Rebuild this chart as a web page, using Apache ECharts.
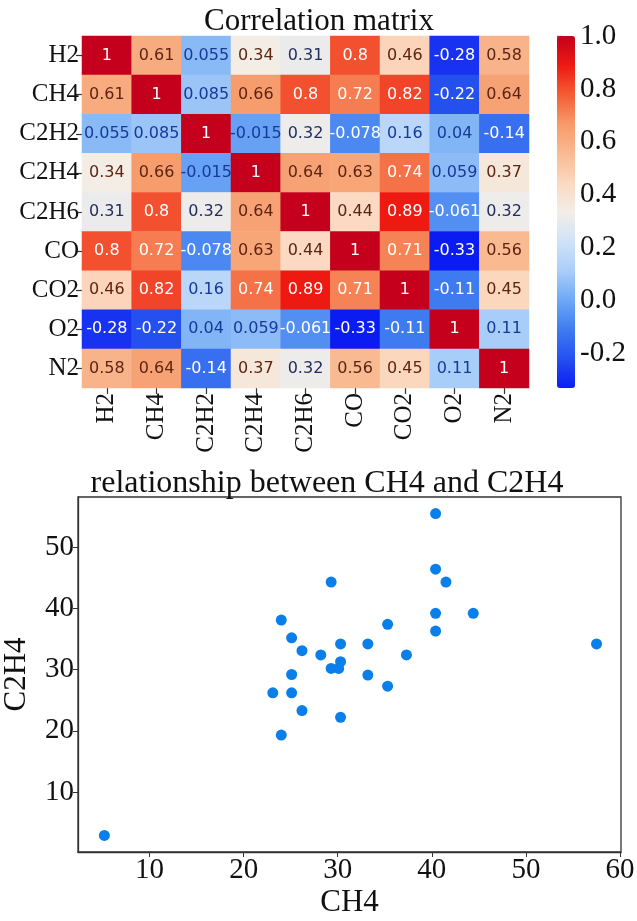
<!DOCTYPE html>
<html>
<head>
<meta charset="utf-8">
<script src="https://cdn.jsdelivr.net/npm/echarts@6/dist/echarts.min.js"></script>
<style>
html,body{margin:0;padding:0;background:#fff;}
#c{width:637px;height:921px;}
</style>
</head>
<body>
<div id="c"></div>
<script>
// ---- data ----
var gases = ['H2','CH4','C2H2','C2H4','C2H6','CO','CO2','O2','N2'];
var rowH2   = [1, 0.61, 0.055, 0.34, 0.31, 0.8, 0.46, -0.28, 0.58];
var rowCH4  = [0.61, 1, 0.085, 0.66, 0.8, 0.72, 0.82, -0.22, 0.64];
var rowC2H2 = [0.055, 0.085, 1, -0.015, 0.32, -0.078, 0.16, 0.04, -0.14];
var rowC2H4 = [0.34, 0.66, -0.015, 1, 0.64, 0.63, 0.74, 0.059, 0.37];
var rowC2H6 = [0.31, 0.8, 0.32, 0.64, 1, 0.44, 0.89, -0.061, 0.32];
var rowCO   = [0.8, 0.72, -0.078, 0.63, 0.44, 1, 0.71, -0.33, 0.56];
var rowCO2  = [0.46, 0.82, 0.16, 0.74, 0.89, 0.71, 1, -0.11, 0.45];
var rowO2   = [-0.28, -0.22, 0.04, 0.059, -0.061, -0.33, -0.11, 1, 0.11];
var rowN2   = [0.58, 0.64, -0.14, 0.37, 0.32, 0.56, 0.45, 0.11, 1];
var colorbarTicks = [-0.2, 0.0, 0.2, 0.4, 0.6, 0.8, 1.0];

var ch4Values  = [40.4, 40.4, 41.5, 29.3, 40.4, 44.4, 24.0, 35.3, 40.4, 25.1, 30.3, 33.2, 57.5, 26.2, 28.2, 37.3, 30.3, 29.3, 30.1, 25.1, 33.2, 35.3, 23.1, 25.1, 26.2, 30.3, 24.0, 5.2];
var c2h4Values = [55.5, 46.4, 44.3, 44.3, 39.2, 39.2, 38.1, 37.4, 36.3, 35.2, 34.2, 34.2, 34.2, 33.1, 32.4, 32.4, 31.3, 30.2, 30.2, 29.2, 29.1, 27.3, 26.2, 26.2, 23.3, 22.2, 19.3, 2.9];
var xTicks = [10, 20, 30, 40, 50, 60];
var yTicks = [10, 20, 30, 40, 50];

// ---- build ----
var matrix = [rowH2,rowCH4,rowC2H2,rowC2H4,rowC2H6,rowCO,rowCO2,rowO2,rowN2];
function textColor(v){
  if (v >= 0.7 || v <= -0.05) return '#ffffff';
  if (v < 0.25) return '#163a9c';
  if (v < 0.335) return '#212d5c';
  return '#5e2412';
}
var heatData = [];
for (var r = 0; r < matrix.length; r++) {
  for (var c = 0; c < matrix[r].length; c++) {
    var v = matrix[r][c];
    heatData.push({value:[c, r, v], label:{color:textColor(v)}});
  }
}
var scatterData = ch4Values.map(function(x,i){ return [x, c2h4Values[i]]; });

var serif = 'Liberation Serif';
var palette = ['#0b1cf2','#2550f0','#3f7cf0','#6ea8f5','#aacef8','#d0e2f8','#f3eee8','#fbd8c0','#f9ba92','#f79a6a','#f45d36','#ee1a12','#c4001c'];

var chart = echarts.init(document.getElementById('c'), null, {renderer:'canvas'});
chart.setOption({
  backgroundColor:'#fff',
  animation:false,
  title:[
    {text:'Correlation matrix', left:314, top:1, textAlign:'center',
     textStyle:{fontFamily:serif, fontSize:31, fontWeight:'normal', color:'#111'}},
    {text:'relationship between CH4 and C2H4', left:322, top:463, textAlign:'center',
     textStyle:{fontFamily:serif, fontSize:32, fontWeight:'normal', color:'#111'}}
  ],
  grid:[
    {left:82, top:36, width:447, height:352, outerBoundsMode:'none'},
    {left:557, top:36, width:18, height:352, outerBoundsMode:'none'},
    {left:78, top:497, width:543, height:355, show:true, borderColor:'#333', borderWidth:1.3, outerBoundsMode:'none'}
  ],
  xAxis:[
    {type:'category', gridIndex:0, data:gases, position:'bottom',
     axisLine:{show:false}, splitLine:{show:false},
     axisTick:{show:true, alignWithLabel:true, length:6, lineStyle:{color:'#333', width:1.2}},
     axisLabel:{rotate:90, interval:0, margin:5, fontFamily:serif, fontSize:25, color:'#111'}},
    {type:'value', gridIndex:1, show:false, min:0, max:1},
    {type:'value', gridIndex:2, min:2.4, max:60.1,
     axisLine:{show:true, onZero:false, lineStyle:{color:'#333', width:1.3}},
     axisTick:{show:true, length:5, customValues:xTicks, lineStyle:{color:'#333'}},
     axisLabel:{customValues:xTicks, margin:4, fontFamily:serif, fontSize:29, color:'#111'},
     splitLine:{show:false},
     name:'CH4', nameLocation:'middle', nameGap:35,
     nameTextStyle:{fontFamily:serif, fontSize:31, color:'#111'}}
  ],
  yAxis:[
    {type:'category', gridIndex:0, data:gases, inverse:true,
     axisLine:{show:false}, splitLine:{show:false},
     axisTick:{show:true, alignWithLabel:true, length:6, lineStyle:{color:'#333', width:1.2}},
     axisLabel:{interval:0, margin:3, fontFamily:serif, fontSize:25, color:'#111'}},
    {type:'value', gridIndex:1, position:'right', min:-0.33, max:1,
     axisLine:{show:false}, splitLine:{show:false},
     axisTick:{show:true, length:5, customValues:colorbarTicks, lineStyle:{color:'#333', width:1.2}},
     axisLabel:{customValues:colorbarTicks, margin:5, fontFamily:serif, fontSize:29, color:'#111',
       formatter:function(v){ return (Math.abs(v) < 1e-9 ? 0 : v).toFixed(1); }}},
    {type:'value', gridIndex:2, min:0.2, max:58.2,
     axisLine:{show:true, onZero:false, lineStyle:{color:'#333', width:1.3}},
     axisTick:{show:true, length:5, customValues:yTicks, lineStyle:{color:'#333'}},
     axisLabel:{customValues:yTicks, margin:4, fontFamily:serif, fontSize:29, color:'#111'},
     splitLine:{show:false},
     name:'C2H4', nameLocation:'middle', nameGap:46, nameRotate:90,
     nameTextStyle:{fontFamily:serif, fontSize:31, color:'#111'}}
  ],
  visualMap:{
    type:'continuous', seriesIndex:0, min:-0.33, max:1, calculable:false,
    orient:'vertical', left:557, top:36, itemWidth:18, itemHeight:352, padding:0,
    text:null, showLabel:false,
    inRange:{color:palette}
  },
  series:[
    {type:'heatmap', xAxisIndex:0, yAxisIndex:0, data:heatData,
     itemStyle:{borderWidth:0},
     label:{show:true, fontFamily:'DejaVu Sans', fontSize:16,
       formatter:function(p){ return String(p.value[2]); }},
     emphasis:{disabled:true}},
    {type:'scatter', xAxisIndex:2, yAxisIndex:2, data:scatterData,
     symbolSize:11, itemStyle:{color:'#0a7fea', opacity:1}}
  ]
});
</script>
</body>
</html>
